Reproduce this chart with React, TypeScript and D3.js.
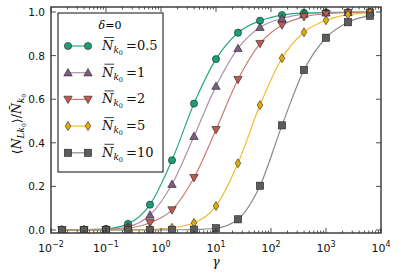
import { useEffect, useRef } from 'react';
import * as d3 from 'd3';

// gamma sample points (log-spaced)
const gamma = [0.0158, 0.0398, 0.1, 0.251, 0.631, 1.585, 3.98, 10, 25.1, 63.1, 158.5, 398, 1000, 2512, 6310];

const nHalf = [0.001, 0.002, 0.005, 0.028, 0.116, 0.32, 0.58, 0.784, 0.905, 0.96, 0.986, 0.996, 0.998, 0.999, 1.0];
const nOne = [0.0, 0.001, 0.003, 0.015, 0.069, 0.21, 0.43, 0.66, 0.833, 0.93, 0.97, 0.99, 0.996, 0.998, 0.999];
const nTwo = [0.0, 0.0, 0.001, 0.008, 0.033, 0.092, 0.24, 0.46, 0.69, 0.855, 0.94, 0.978, 0.992, 0.997, 0.999];
const nFive = [0.0, 0.0, 0.0, 0.001, 0.003, 0.01, 0.033, 0.11, 0.306, 0.573, 0.788, 0.907, 0.962, 0.988, 0.996];
const nTen = [0.0, 0.0, 0.0, 0.0, 0.0, 0.001, 0.002, 0.008, 0.049, 0.203, 0.48, 0.734, 0.882, 0.953, 0.983];

const seriesLabels = ['0.5', '1', '2', '5', '10'];
const yTicks = [0, 0.2, 0.4, 0.6, 0.8, 1.0];
const xTickExps = [-2, -1, 0, 1, 2, 3, 4];

type Series = { values: number[]; fill: string; line: string; shape: string };

const series: Series[] = [
  { values: nHalf, fill: '#1b9e77', line: '#2aa881', shape: 'circle' },
  { values: nOne, fill: '#7e5d80', line: '#ad93af', shape: 'up' },
  { values: nTwo, fill: '#bf5a50', line: '#c77d74', shape: 'down' },
  { values: nFive, fill: '#e6ab02', line: '#eebc2e', shape: 'diamond' },
  { values: nTen, fill: '#5c5c5c', line: '#8a8a8a', shape: 'square' },
];

const W = 399;
const H = 274;
const L = 51, R = 381, T = 7, B = 233;

function drawMarker(g: any, shape: string, x: number, y: number, fill: string) {
  const common = (s: any) => s.attr('fill', fill).attr('stroke', '#222').attr('stroke-width', 0.6);
  if (shape === 'circle') {
    common(g.append('circle').attr('cx', x).attr('cy', y).attr('r', 3.6));
  } else if (shape === 'square') {
    common(g.append('rect').attr('x', x - 3.6).attr('y', y - 3.6).attr('width', 7.2).attr('height', 7.2));
  } else if (shape === 'up') {
    common(g.append('path').attr('d', `M${x},${y - 4.2}L${x + 4.2},${y + 3.2}L${x - 4.2},${y + 3.2}Z`));
  } else if (shape === 'down') {
    common(g.append('path').attr('d', `M${x},${y + 4.2}L${x + 4.2},${y - 3.2}L${x - 4.2},${y - 3.2}Z`));
  } else {
    common(g.append('path').attr('d', `M${x},${y - 4.5}L${x + 2.8},${y}L${x},${y + 4.5}L${x - 2.8},${y}Z`));
  }
}

const App = () => {
  const svgRef = useRef(null);

  useEffect(() => {
    if (!svgRef.current) return;
    const svg = d3.select(svgRef.current);
    svg.selectAll('*').remove();

    const x = d3.scaleLog().domain([1e-2, 1e4]).range([L, R]);
    const y = d3.scaleLinear().domain([0, 1]).range([230, 12]);

    svg.append('rect').attr('width', W).attr('height', H).attr('fill', '#fff');

    const plot = svg.append('g');
    plot.append('clipPath').attr('id', 'clip')
      .append('rect').attr('x', L).attr('y', T).attr('width', R - L).attr('height', B - T);

    const line = d3.line<number>()
      .x((_, i) => x(gamma[i]))
      .y((d) => y(d))
      .curve(d3.curveMonotoneX);

    const body = plot.append('g').attr('clip-path', 'url(#clip)');
    series.forEach((s) => {
      body.append('path').attr('d', line(s.values)).attr('fill', 'none')
        .attr('stroke', s.line).attr('stroke-width', 1.2);
    });
    series.forEach((s) => {
      s.values.forEach((v, i) => drawMarker(body, s.shape, x(gamma[i]), y(v), s.fill));
    });

    // ticks
    const ax = svg.append('g').attr('stroke', '#222').attr('stroke-width', 0.8);
    xTickExps.forEach((e) => {
      const px = x(Math.pow(10, e));
      ax.append('line').attr('x1', px).attr('x2', px).attr('y1', B).attr('y2', B - 5);
      ax.append('line').attr('x1', px).attr('x2', px).attr('y1', T).attr('y2', T + 5);
      if (e < 4) {
        for (let m = 2; m <= 9; m++) {
          const mx = x(m * Math.pow(10, e));
          ax.append('line').attr('x1', mx).attr('x2', mx).attr('y1', B).attr('y2', B - 2.5);
          ax.append('line').attr('x1', mx).attr('x2', mx).attr('y1', T).attr('y2', T + 2.5);
        }
      }
      const t = svg.append('text').attr('x', px).attr('y', 252).attr('text-anchor', 'middle')
        .attr('font-family', 'DejaVu Sans').attr('font-size', 11).attr('fill', '#111');
      t.append('tspan').text('10');
      t.append('tspan').attr('dy', -5).attr('font-size', 8).text(e < 0 ? `\u2212${-e}` : `${e}`);
    });
    yTicks.forEach((v) => {
      const py = y(v);
      ax.append('line').attr('x1', L).attr('x2', L + 5).attr('y1', py).attr('y2', py);
      ax.append('line').attr('x1', R).attr('x2', R - 5).attr('y1', py).attr('y2', py);
      svg.append('text').attr('x', 45).attr('y', py + 4).attr('text-anchor', 'end')
        .attr('font-family', 'DejaVu Sans').attr('font-size', 10.5).attr('fill', '#111')
        .text(d3.format('.1f')(v));
    });

    svg.append('rect').attr('x', L).attr('y', T).attr('width', R - L).attr('height', B - T)
      .attr('fill', 'none').attr('stroke', '#333').attr('stroke-width', 1.4);

    // legend
    const lg = svg.append('g');
    lg.append('rect').attr('x', 58).attr('y', 13).attr('width', 105).attr('height', 159)
      .attr('fill', '#fff').attr('stroke', '#222').attr('stroke-width', 1.1);
    const title = lg.append('text').attr('x', 110).attr('y', 29).attr('text-anchor', 'middle')
      .attr('font-family', 'DejaVu Serif').attr('font-size', 11);
    title.append('tspan').attr('font-style', 'italic').text('δ');
    title.append('tspan').text('=0');
    series.forEach((s, i) => {
      const ly = 46 + i * 26.7;
      lg.append('line').attr('x1', 68).attr('x2', 88).attr('y1', ly).attr('y2', ly)
        .attr('stroke', s.line).attr('stroke-width', 1.2);
      drawMarker(lg, s.shape, 68, ly, s.fill);
      drawMarker(lg, s.shape, 88, ly, s.fill);
      const t = lg.append('text').attr('x', 102).attr('y', ly + 4)
        .attr('font-family', 'DejaVu Serif').attr('font-size', 13).attr('fill', '#111');
      t.append('tspan').attr('font-style', 'italic').text('N');
      t.append('tspan').attr('font-style', 'italic').attr('font-size', 9).attr('dy', 3).text('k');
      t.append('tspan').attr('font-size', 6.5).attr('dy', 2).text('0');
      t.append('tspan').attr('dy', -5).attr('dx', 3).text('=' + seriesLabels[i]);
      lg.append('line').attr('x1', 104.5).attr('x2', 114).attr('y1', ly - 8.5).attr('y2', ly - 8.5)
        .attr('stroke', '#111').attr('stroke-width', 0.8);
    });

    // axis labels
    svg.append('text').attr('x', 216).attr('y', 266).attr('text-anchor', 'middle')
      .attr('font-family', 'DejaVu Serif').attr('font-style', 'italic').attr('font-size', 12)
      .text('γ');

    const yl = svg.append('text').attr('transform', 'translate(21,124) rotate(-90)')
      .attr('text-anchor', 'middle').attr('font-family', 'DejaVu Serif').attr('font-size', 12.5)
      .attr('fill', '#111');
    yl.append('tspan').text('\u27e8');
    yl.append('tspan').attr('font-style', 'italic').text('N');
    yl.append('tspan').attr('font-style', 'italic').attr('font-size', 9).attr('dy', 3).text('Lk');
    yl.append('tspan').attr('font-size', 6).attr('dy', 1.5).text('0');
    yl.append('tspan').attr('dy', -4.5).text('\u27e9/');
    yl.append('tspan').attr('font-style', 'italic').text('N\u0304');
    yl.append('tspan').attr('font-style', 'italic').attr('font-size', 9).attr('dy', 3).text('k');
    yl.append('tspan').attr('font-size', 6).attr('dy', 1.5).text('0');
  }, []);

  return (
    <svg
      ref={svgRef}
      width={W}
      height={H}
      style={{ position: 'absolute', left: 0, top: 0, display: 'block' }}
    ></svg>
  );
};

export default App;
